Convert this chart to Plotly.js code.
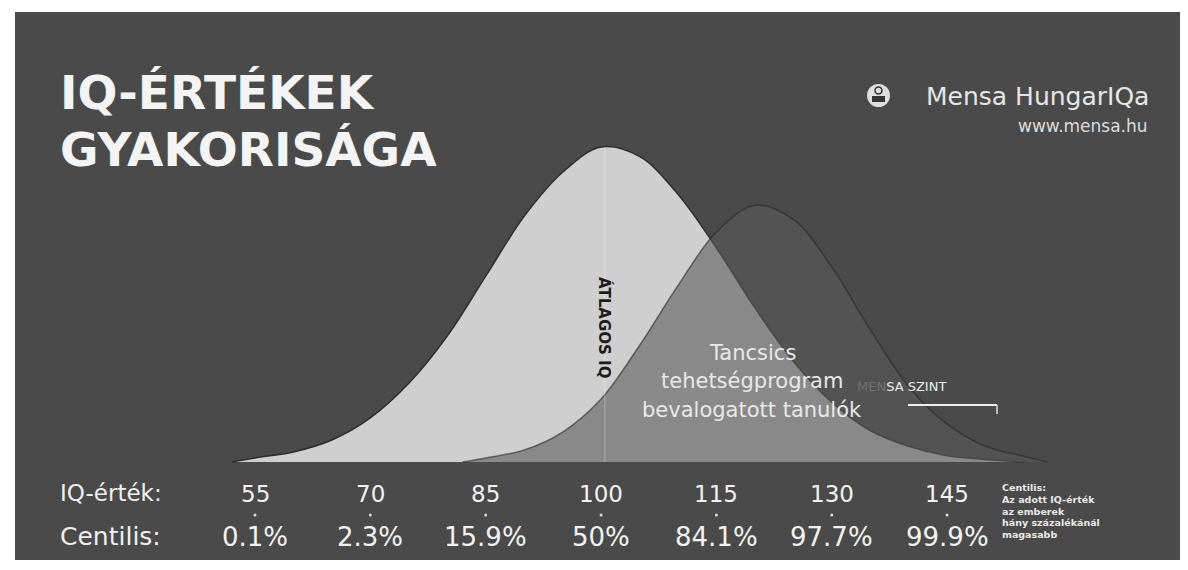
<!DOCTYPE html>
<html>
<head>
<meta charset="utf-8">
<script src="https://cdn.plot.ly/plotly-3.0.1.min.js"></script>
<style>html,body{margin:0;padding:0;background:#fff;}#chart{width:1188px;height:570px;}</style>
</head>
<body>
<div id="chart"></div>
<script>
// ---- data ----
const iqTicks = [55, 70, 85, 100, 115, 130, 145];
const iqTickLabels = ['55', '70', '85', '100', '115', '130', '145'];
const centileLabels = ['0.1%', '2.3%', '15.9%', '50%', '84.1%', '97.7%', '99.9%'];

// population curve (relative frequency, peak = 100)
const popIQ   = [52, 55, 60, 65, 70, 75, 80, 85, 90, 95, 100, 105, 110, 115, 120, 125, 130, 135, 140, 145, 150, 155];
const popFreq = [0, 1.3, 3.2, 7, 14, 25, 40, 59, 78, 92, 100, 97, 85, 68, 49, 32, 19, 10, 5, 2, 0.8, 0];

// Táncsics programme curve
const talIQ   = [82, 85, 90, 95, 100, 105, 110, 115, 120, 125, 130, 135, 140, 145, 150, 155, 158];
const talFreq = [0, 1.3, 3.8, 9.5, 20, 37, 56, 73, 81.5, 77, 62, 42, 24, 12, 5, 1.8, 0];

const averageIQ = 100.5;
const noteLines = ['Centilis:', 'Az adott IQ-érték', 'az emberek', 'hány százalékánál', 'magasabb'];
const talLines = ['Tancsics', 'tehetségprogram', 'bevalogatott tanulók'];

// ---- layout helpers (pixel -> paper) ----
const ML = 15, MR = 8, MT = 12, MB = 10, W = 1188, H = 570;
const PW = W - ML - MR, PH = H - MT - MB;
const PX = px => (px - ML) / PW;
const PY = py => (H - MB - py) / PH;

const FONT = 'DejaVu Sans, sans-serif';

const traces = [
  {
    x: popIQ, y: popFreq, type: 'scatter', mode: 'lines',
    line: {shape: 'spline', smoothing: 1, color: '#2e2e2e', width: 1.5},
    fill: 'tozeroy', fillcolor: '#cfcfcf', hoverinfo: 'skip'
  },
  {
    x: talIQ, y: talFreq, type: 'scatter', mode: 'lines',
    line: {shape: 'spline', smoothing: 1, color: 'rgba(40,40,40,0.6)', width: 1.5},
    fill: 'tozeroy', fillcolor: 'rgba(90,90,90,0.6)', hoverinfo: 'skip'
  },
  {
    x: iqTicks, y: iqTicks.map(() => -16.8), type: 'scatter', mode: 'markers',
    marker: {size: 3, color: '#dddddd'}, hoverinfo: 'skip'
  }
];

const ann = [];
function addA(o) { ann.push(Object.assign({showarrow: false, xref: 'paper', yref: 'paper'}, o)); }

// title
addA({x: PX(58), y: PY(92), xanchor: 'left', yanchor: 'middle', text: '<b>IQ-ÉRTÉKEK</b>',
      font: {family: FONT, size: 47, color: '#f4f4f4'}});
addA({x: PX(58), y: PY(150), xanchor: 'left', yanchor: 'middle', text: '<b>GYAKORISÁGA</b>',
      font: {family: FONT, size: 47, color: '#f4f4f4'}});

// Mensa branding
addA({x: PX(1151), y: PY(96), xanchor: 'right', yanchor: 'middle', text: 'Mensa HungarIQa',
      font: {family: FONT, size: 25, color: '#e6e6e6'}});
addA({x: PX(1150), y: PY(126), xanchor: 'right', yanchor: 'middle', text: 'www.mensa.hu',
      font: {family: FONT, size: 17, color: '#dcdcdc'}});

// bottom row labels
addA({x: PX(58), y: PY(493), xanchor: 'left', yanchor: 'middle', text: 'IQ-érték:',
      font: {family: FONT, size: 23, color: '#f0f0f0'}});
addA({x: PX(58), y: PY(536), xanchor: 'left', yanchor: 'middle', text: 'Centilis:',
      font: {family: FONT, size: 25, color: '#f0f0f0'}});
iqTicks.forEach((v, i) => {
  addA({xref: 'x', x: v, y: PY(494), xanchor: 'center', yanchor: 'middle', text: iqTickLabels[i],
        font: {family: FONT, size: 23, color: '#f2f2f2'}});
  addA({xref: 'x', x: v, y: PY(537), xanchor: 'center', yanchor: 'middle', text: centileLabels[i],
        font: {family: FONT, size: 26, color: '#f2f2f2'}});
});
noteLines.forEach((t, i) => {
  addA({x: PX(1000), y: PY(488 + i * 11.5), xanchor: 'left', yanchor: 'middle', text: t,
        font: {family: FONT, size: 9.5, color: '#e8e8e8', weight: 'bold'}});
});

// in-chart texts
addA({xref: 'x', x: averageIQ, y: PY(328), xanchor: 'center', yanchor: 'middle', textangle: 90,
      text: '<b>ÁTLAGOS IQ</b>', font: {family: FONT, size: 15, color: '#1c1c1c'}});
[353, 381, 410].forEach((py, i) => {
  addA({x: PX(752), y: PY(py), xanchor: 'center', yanchor: 'middle', text: talLines[i],
        font: {family: FONT, size: 21, color: '#e8e8e8'}});
});
addA({x: PX(855), y: PY(386), xanchor: 'left', yanchor: 'middle',
      text: '<span style="color:rgba(140,140,140,0.55)">MEN</span>SA SZINT',
      font: {family: FONT, size: 13, color: '#ececec'}});

const shapes = [
  // average line
  {type: 'line', xref: 'x', yref: 'y', x0: averageIQ, x1: averageIQ, y0: 0, y1: 100,
   line: {color: 'rgba(255,255,255,0.3)', width: 1}, layer: 'above'},
  // mensa level marker
  {type: 'line', xref: 'paper', yref: 'paper', x0: PX(908), x1: PX(997), y0: PY(405), y1: PY(405),
   line: {color: '#eeeeee', width: 2}},
  {type: 'line', xref: 'paper', yref: 'paper', x0: PX(997), x1: PX(997), y0: PY(405), y1: PY(414),
   line: {color: '#dddddd', width: 1.5}},
  // logo
  {type: 'circle', xref: 'paper', yref: 'paper', x0: PX(867), x1: PX(890), y0: PY(107), y1: PY(84),
   fillcolor: '#dedede', line: {width: 0}},
  {type: 'circle', xref: 'paper', yref: 'paper', x0: PX(875), x1: PX(882), y0: PY(94), y1: PY(87),
   fillcolor: 'rgba(0,0,0,0)', line: {color: '#333', width: 1.5}},
  {type: 'rect', xref: 'paper', yref: 'paper', x0: PX(872), x1: PX(885), y0: PY(102), y1: PY(96),
   fillcolor: '#333', line: {width: 0}}
];

const layout = {
  width: W, height: H,
  margin: {l: ML, r: MR, t: MT, b: MB, pad: 0},
  paper_bgcolor: '#ffffff', plot_bgcolor: '#4a4a4a',
  showlegend: false,
  xaxis: {range: [23.79, 175.29], visible: false, fixedrange: true},
  yaxis: {range: [-31.11, 142.86], visible: false, fixedrange: true},
  annotations: ann, shapes: shapes
};

Plotly.newPlot('chart', traces, layout, {staticPlot: true, displayModeBar: false});
</script>
</body>
</html>
